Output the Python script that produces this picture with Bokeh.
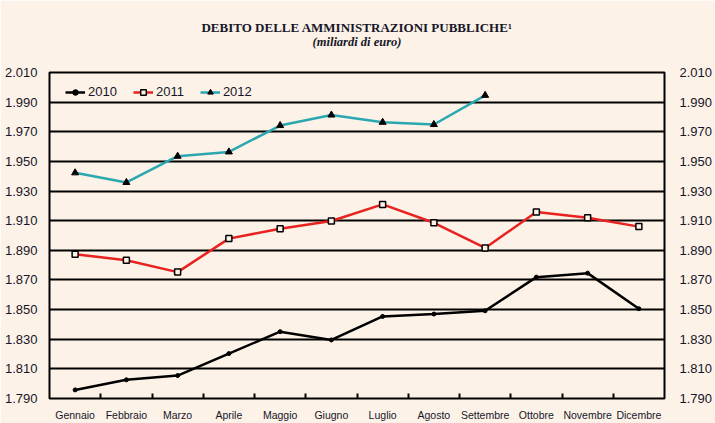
from bokeh.plotting import figure
from bokeh.models import (FixedTicker, LinearAxis, Range1d, Legend, LegendItem,
                          Title, ColumnDataSource)
from bokeh.embed import file_html
from bokeh.resources import INLINE

months = ["Gennaio", "Febbraio", "Marzo", "Aprile", "Maggio", "Giugno",
          "Luglio", "Agosto", "Settembre", "Ottobre", "Novembre", "Dicembre"]
debt_2010 = [1795.8, 1802.6, 1805.5, 1820.3, 1835.1, 1829.5,
             1845.4, 1847.0, 1849.2, 1871.9, 1874.6, 1850.6]
debt_2011 = [1887.4, 1883.3, 1875.3, 1897.9, 1904.6, 1909.8,
             1921.0, 1908.6, 1891.6, 1915.8, 1912.0, 1906.0]
debt_2012 = [1942.3, 1935.8, 1953.5, 1956.4, 1974.2, 1981.3,
             1976.4, 1974.9, 1994.6]
y_ticks = [1790, 1810, 1830, 1850, 1870, 1890, 1910, 1930, 1950, 1970, 1990, 2010]
y_tick_labels = ["1.790", "1.810", "1.830", "1.850", "1.870", "1.890",
                 "1.910", "1.930", "1.950", "1.970", "1.990", "2.010"]
title_text = "DEBITO DELLE AMMINISTRAZIONI PUBBLICHE¹"
subtitle_text = "(miliardi di euro)"

BG = "#fcf2e7"
TXT = "#16162a"
SANS = "Liberation Sans"

pos = list(range(1, len(months) + 1))
bounds = [i + 0.5 for i in range(1, len(months))]

p = figure(width=715, height=423, output_backend="svg", toolbar_location=None,
           x_range=Range1d(0.5, len(months) + 0.5),
           y_range=Range1d(y_ticks[0], y_ticks[-1]),
           min_border_left=49, min_border_right=44, min_border_top=72,
           min_border_bottom=24,
           background_fill_color=BG, border_fill_color=BG,
           outline_line_color="black", outline_line_width=2)

sub = Title(text=subtitle_text, align="center", text_font="Liberation Serif",
            text_font_style="bold italic", text_font_size="12.5px", text_color=TXT,
            standoff=48)
main = Title(text=title_text, align="center",
             text_font="Liberation Serif", text_font_style="bold",
             text_font_size="13px", text_color=TXT, standoff=-53)
p.add_layout(sub, "above")
p.add_layout(main, "above")

# x axis
xt = FixedTicker(ticks=pos, minor_ticks=bounds)
p.xaxis.ticker = xt
p.xaxis.major_label_overrides = {k: m for k, m in zip(pos, months)}
p.xaxis.axis_line_color = None
p.xaxis.major_tick_line_color = None
p.xaxis.minor_tick_line_color = "black"
p.xaxis.minor_tick_line_width = 2
p.xaxis.minor_tick_in = 5
p.xaxis.minor_tick_out = 0
p.xaxis.major_label_text_font = SANS
p.xaxis.major_label_text_font_size = "10.5px"
p.xaxis.major_label_text_color = TXT
p.xaxis.major_label_standoff = 4
p.xgrid.visible = False

# y axes
yover = {k: v for k, v in zip(y_ticks, y_tick_labels)}
p.yaxis.ticker = FixedTicker(ticks=y_ticks)
p.yaxis.major_label_overrides = yover
p.yaxis.axis_line_color = None
p.yaxis.major_tick_line_color = None
p.yaxis.minor_tick_line_color = None
p.yaxis.major_label_text_font = SANS
p.yaxis.major_label_text_font_size = "13px"
p.yaxis.major_label_text_color = TXT
p.yaxis.major_label_standoff = 6

ra = LinearAxis(ticker=FixedTicker(ticks=y_ticks), major_label_overrides=yover,
                axis_line_color=None, major_tick_line_color=None,
                minor_tick_line_color=None, major_label_text_font=SANS,
                major_label_text_font_size="13px", major_label_text_color=TXT,
                major_label_standoff=9)
p.add_layout(ra, "right")

p.ygrid.ticker = FixedTicker(ticks=y_ticks)
p.ygrid.grid_line_color = "black"
p.ygrid.grid_line_width = 2

s10 = ColumnDataSource(dict(x=pos[:len(debt_2010)], y=debt_2010))
s11 = ColumnDataSource(dict(x=pos[:len(debt_2011)], y=debt_2011))
s12 = ColumnDataSource(dict(x=pos[:len(debt_2012)], y=debt_2012))

l10 = p.line("x", "y", source=s10, line_color="black", line_width=2.5)
m10 = p.scatter("x", "y", source=s10, marker="circle", size=4,
                fill_color="black", line_color="black")
l11 = p.line("x", "y", source=s11, line_color="#e8221e", line_width=2.5)
m11 = p.scatter("x", "y", source=s11, marker="square", size=6,
                fill_color=BG, line_color="black", line_width=1.5)
l12 = p.line("x", "y", source=s12, line_color="#2aa7b0", line_width=2.5)
m12 = p.scatter("x", "y", source=s12, marker="triangle", size=7,
                fill_color="black", line_color="black")

legend = Legend(items=[LegendItem(label="2010", renderers=[l10, m10]),
                       LegendItem(label="2011", renderers=[l11, m11]),
                       LegendItem(label="2012", renderers=[l12, m12])],
                location=(16, 299), orientation="horizontal",
                background_fill_color=BG, background_fill_alpha=1,
                border_line_color=None, label_text_font=SANS,
                label_text_font_size="13px", label_text_color=TXT,
                glyph_width=20, glyph_height=14, label_height=14,
                padding=6, spacing=16, label_standoff=3, margin=0)
p.add_layout(legend)

open("out.html", "w").write(file_html(p, INLINE))
